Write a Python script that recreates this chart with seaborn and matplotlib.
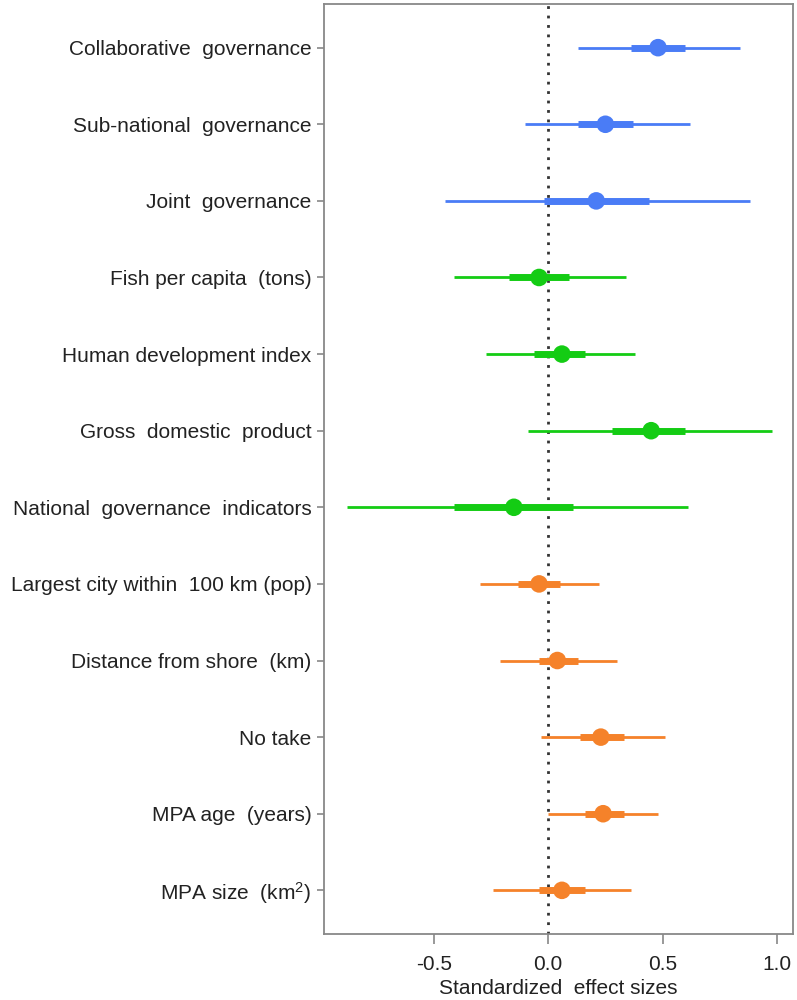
import numpy as np
import pandas as pd
import seaborn as sns
import matplotlib
matplotlib.use("Agg")
import matplotlib.pyplot as plt

# data
labels = ["Collaborative  governance", "Sub-national  governance", "Joint  governance",
          "Fish per capita  (tons)", "Human development index", "Gross  domestic  product",
          "National  governance  indicators", "Largest city within  100 km (pop)",
          "Distance from shore  (km)", "No take", "MPA age  (years)", "MPA size  (km$^{2}$)"]
group = ["gov"] * 3 + ["nat"] * 4 + ["loc"] * 5
est = [0.48, 0.25, 0.21, -0.04, 0.06, 0.45, -0.15, -0.04, 0.04, 0.23, 0.24, 0.06]
lo95 = [0.13, -0.10, -0.45, -0.41, -0.27, -0.09, -0.88, -0.30, -0.21, -0.03, 0.00, -0.24]
hi95 = [0.84, 0.62, 0.88, 0.34, 0.38, 0.98, 0.61, 0.22, 0.30, 0.51, 0.48, 0.36]
lo50 = [0.36, 0.13, -0.02, -0.17, -0.06, 0.28, -0.41, -0.13, -0.04, 0.14, 0.16, -0.04]
hi50 = [0.60, 0.37, 0.44, 0.09, 0.16, 0.60, 0.11, 0.05, 0.13, 0.33, 0.33, 0.16]
colors = {"gov": "#4a7cf6", "nat": "#14cc14", "loc": "#f5822a"}

df = pd.DataFrame({"label": labels, "group": group, "est": est,
                   "lo95": lo95, "hi95": hi95, "lo50": lo50, "hi50": hi50})
df["pos"] = np.arange(len(df))

sns.set_style("ticks")
plt.rcParams['font.family'] = ['Liberation Sans', 'DejaVu Sans']
plt.rcParams['mathtext.fontset'] = 'custom'
plt.rcParams['mathtext.rm'] = 'Liberation Sans'
plt.rcParams['mathtext.it'] = 'Liberation Sans'

fig = plt.figure(figsize=(7.97, 10), dpi=100)
ax = fig.add_axes([0.4065, 0.066, 0.5885, 0.93])

# zero line
ax.axvline(0, color="#333333", ls=(0, (1, 2.4)), lw=2.0, zorder=1)

c = df["group"].map(colors)
ax.hlines(df["pos"], df["lo95"], df["hi95"], colors=c, lw=2.0, zorder=2)
ax.hlines(df["pos"], df["lo50"], df["hi50"], colors=c, lw=5.0, zorder=3)
sns.scatterplot(data=df, x="est", y="pos", hue="group", palette=colors,
                s=160, edgecolor="none", legend=False, ax=ax, zorder=4)

ax.set_xlim(-0.98, 1.07)
ax.set_ylim(11.57, -0.57)
ax.set_xticks([-0.5, 0.0, 0.5, 1.0])
ax.set_xticklabels(["-0.5", "0.0", "0.5", "1.0"])
ax.set_yticks(df["pos"])
ax.set_yticklabels(df["label"])
ax.set_xlabel("Standardized  effect sizes", fontsize=15, labelpad=4, color="#222222")
ax.set_ylabel("")

for s in ax.spines.values():
    s.set_color("#888888")
    s.set_linewidth(1.3)
ax.tick_params(axis="x", length=7, width=1.2, color="#888888", labelsize=15,
               labelcolor="#222222", pad=8)
ax.tick_params(axis="y", length=5, width=1.2, color="#888888", labelsize=15,
               labelcolor="#222222", pad=4)

fig.savefig("out.png", dpi=100)
